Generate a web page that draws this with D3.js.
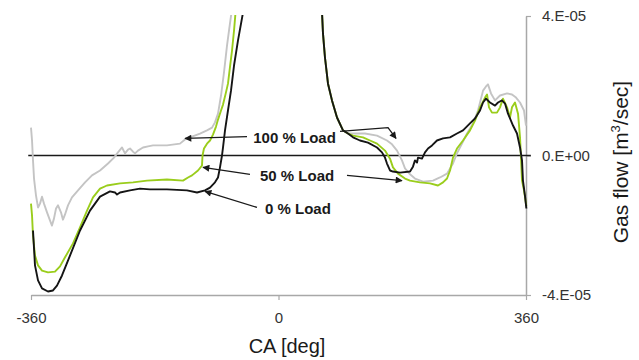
<!DOCTYPE html>
<html>
<head>
<meta charset="utf-8">
<script src="https://cdn.jsdelivr.net/npm/d3@7"></script>
<style>
  html, body { margin: 0; padding: 0; background: #fff; }
  svg { display: block; font-family: "Liberation Sans", Arial, sans-serif; }
</style>
</head>
<body>
<svg id="chart" width="639" height="360"></svg>
<script>
// Gas flow through the valve vs crank angle, three engine loads.
// Values are in 1e-6 m3/sec; x is crank angle in degrees.

const xTicks = [-360, 0, 360];
const xTickLabels = ["-360", "0", "360"];
const yTicks = [-40, 0, 40];
const yTickLabels = ["-4.E-05", "0.E+00", "4.E-05"];

// 0 % load (black): intake branch and exhaust branch
const load0Left = [[-357.1,-21.5],[-354.2,-31.5],[-349.8,-35.8],[-344.0,-38.1],[-335.3,-39.0],[-328.0,-38.7],[-322.2,-37.3],[-314.9,-34.4],[-303.3,-28.7],[-288.7,-21.5],[-274.2,-15.8],[-259.6,-11.8],[-245.1,-10.3],[-237.8,-10.6],[-234.9,-11.2],[-230.5,-10.6],[-216.0,-10.0],[-201.5,-9.5],[-186.9,-9.7],[-162.2,-9.7],[-133.1,-10.0],[-118.5,-10.6],[-106.9,-10.0],[-99.6,-9.2],[-92.4,-7.7],[-88.0,-6.3],[-85.1,-3.4],[-82.2,0],[-80.7,2.3],[-77.8,7.2],[-73.5,12.9],[-69.1,18.6],[-64.7,25.8],[-58.9,33.0],[-51.6,41.0]];
const load0Right = [[63.3,41.0],[64.7,35.0],[67.6,28.1],[72.0,20.6],[77.8,15.8],[85.1,10.9],[93.8,7.2],[101.1,6.3],[108.4,5.2],[118.5,4.3],[130.2,3.7],[143.3,2.3],[150.5,0.9],[154.9,-0.6],[157.8,-2.3],[162.2,-4.3],[166.5,-4.6],[176.7,-4.9],[191.3,-4.6],[195.6,-3.2],[198.5,-1.4],[201.5,-2.0],[202.9,-0.6],[208.7,-0.9],[213.1,0.9],[217.5,2.0],[223.3,2.9],[230.5,4.3],[239.3,4.9],[249.5,5.2],[259.6,6.3],[268.4,7.2],[278.5,9.2],[285.8,10.6],[293.1,12.9],[297.5,15.2],[301.8,16.3],[307.6,15.2],[314.9,14.3],[319.3,15.2],[325.1,15.8],[329.5,14.9],[333.8,12.0],[341.1,8.6],[346.9,6.3],[351.3,2.3],[354.2,-1.4],[355.6,-7.2],[358.5,-11.5],[360.5,-15.2]];

// 50 % load (green)
const load50Left = [[-360,-13.8],[-358.5,-17.2],[-357.1,-22.9],[-354.2,-28.7],[-349.8,-31.5],[-344.0,-33.0],[-335.3,-33.5],[-325.1,-33.3],[-317.8,-31.8],[-310.5,-29.2],[-298.9,-25.2],[-288.7,-20.6],[-278.5,-15.8],[-269.8,-12.0],[-259.6,-9.5],[-249.5,-8.6],[-230.5,-8.0],[-211.6,-7.7],[-191.3,-7.2],[-162.2,-6.9],[-138.9,-7.2],[-131.6,-6.3],[-125.8,-5.7],[-117.1,-4.3],[-111.3,-2.9],[-110.5,0],[-108.4,2.0],[-104.0,3.4],[-99.6,4.3],[-95.3,6.0],[-90.9,8.3],[-88.0,10.3],[-83.6,12.9],[-80.7,14.6],[-76.4,18.1],[-73.5,20.6],[-70.5,25.5],[-67.6,30.1],[-64.7,35.8],[-62.5,41.0]];
const load50Right = [[63.3,41.0],[64.7,35.0],[67.6,28.1],[72.0,20.6],[77.8,15.8],[85.1,10.9],[93.8,7.2],[101.1,6.3],[108.4,5.7],[122.9,5.2],[133.1,4.3],[143.3,3.4],[154.9,1.4],[162.2,-0.9],[166.5,-3.4],[173.8,-5.2],[184.0,-6.6],[191.3,-7.2],[205.8,-7.7],[220.4,-8.0],[232.0,-8.6],[239.3,-7.7],[245.1,-6.6],[249.5,-4.3],[253.8,-0.6],[259.6,2.0],[268.4,4.3],[278.5,7.2],[285.8,10.0],[293.1,13.8],[300.4,16.6],[303.3,17.5],[306.2,13.8],[310.5,12.3],[317.8,12.3],[322.2,13.8],[326.5,16.3],[332.4,13.8],[336.7,10.9],[339.6,13.8],[344.0,15.2],[348.4,12.0],[351.3,5.2],[352.7,-0.6],[354.2,-7.2],[357.1,-10.0],[360.5,-14.5]];

// 100 % load (grey)
const load100Left = [[-360,8.0],[-358.5,4.3],[-357.1,-1.4],[-355.6,-6.6],[-352.7,-11.5],[-349.8,-14.9],[-346.9,-13.8],[-344.0,-11.8],[-341.1,-13.8],[-336.7,-16.3],[-332.4,-18.6],[-329.5,-20.1],[-326.6,-18.1],[-323.6,-15.2],[-320.7,-14.3],[-316.4,-16.3],[-313.5,-18.4],[-310.5,-16.9],[-306.2,-14.3],[-300.4,-12.0],[-291.6,-10.0],[-281.4,-7.7],[-271.3,-5.7],[-259.6,-4.3],[-248.0,-2.3],[-239.3,-0.6],[-233.5,0.9],[-227.6,2.3],[-223.3,0.6],[-218.9,1.7],[-216.0,2.0],[-211.6,1.1],[-208.7,0.6],[-204.4,1.4],[-197.1,2.3],[-189.8,2.6],[-182.5,2.9],[-162.2,2.9],[-143.3,3.4],[-136.0,4.6],[-125.8,5.4],[-114.2,6.3],[-104.0,7.2],[-96.7,8.0],[-92.4,9.5],[-88.0,12.0],[-83.6,17.2],[-79.3,23.8],[-74.9,31.5],[-72.0,35.8],[-68.4,41.0]];
const load100Right = [[63.3,41.0],[64.7,35.0],[67.6,28.1],[72.0,20.6],[77.8,15.8],[85.1,10.9],[93.8,7.2],[101.1,6.3],[111.3,6.3],[125.8,6.3],[143.3,5.7],[157.8,4.3],[165.1,3.2],[172.4,1.4],[179.6,-1.4],[184.0,-3.7],[191.3,-5.4],[198.5,-6.6],[210.2,-7.5],[224.7,-7.2],[234.9,-6.3],[245.1,-5.2],[253.8,-2.3],[259.6,0.6],[266.9,3.4],[274.2,6.3],[282.9,9.2],[290.2,12.9],[294.5,16.3],[297.5,18.6],[301.8,19.8],[304.7,20.4],[309.1,17.8],[314.9,15.8],[322.2,17.2],[332.4,17.8],[339.6,17.5],[345.5,16.6],[351.3,15.2],[357.1,12.9],[360,8.6]];

// Load annotations: label anchor, label text, and arrow paths (last point = arrow tip)
const labelTexts = ["100 % Load", "50 % Load", "0 % Load"];
const labelAnchors = [[-36.7, 5.2], [-26.9, -5.7], [-19.6, -15.2]];
const arrowPaths = [
  [[-45.8, 5.4], [-136.0, 4.9]],
  [[89.5, 6.9], [159.3, 8.0], [170.9, 4.9]],
  [[-41.5, -5.4], [-109.8, -3.4]],
  [[99.6, -5.7], [179.6, -7.2]],
  [[-31.3, -14.9], [-106.9, -10.3]]
];
const zeroLine = [[-364, 0], [367, 0]];

const svg = d3.select("#chart");
const x = d3.scaleLinear().domain([-360, 360]).range([31, 526]);
const y = d3.scaleLinear().domain([-40, 40]).range([295, 16]);

const axisColor = "#a8a8a8";
const textColor = "#333";

// clip region for the curves (they run off the top of the plot)
svg.append("defs").append("clipPath").attr("id", "plotClip")
  .append("rect")
  .attr("x", x(-370)).attr("y", y(40.3))
  .attr("width", x(370) - x(-370)).attr("height", y(-41) - y(40.3));

// x axis
const xAxis = svg.append("g")
  .attr("transform", `translate(0,${y(-40)})`)
  .call(d3.axisBottom(x).tickValues(xTicks)
    .tickFormat((d, i) => xTickLabels[i]).tickSize(5).tickPadding(12).tickSizeOuter(0));
xAxis.select(".domain").attr("stroke", axisColor).attr("stroke-width", 1.5);
xAxis.selectAll(".tick line").attr("stroke", axisColor).attr("stroke-width", 1.2);
xAxis.selectAll("text").attr("fill", textColor).style("font-size", "15px");

// y axis on the right
const yAxis = svg.append("g")
  .attr("transform", `translate(${x(360)},0)`)
  .call(d3.axisRight(y).tickValues(yTicks)
    .tickFormat((d, i) => yTickLabels[i]).tickSize(5).tickPadding(11).tickSizeOuter(0));
yAxis.select(".domain").attr("stroke", axisColor).attr("stroke-width", 1.5);
yAxis.selectAll(".tick line").attr("stroke", axisColor).attr("stroke-width", 1.2);
yAxis.selectAll("text").attr("fill", textColor).style("font-size", "15px");

// zero reference line
const line = d3.line().x(d => x(d[0])).y(d => y(d[1]));
svg.append("path").datum(zeroLine).attr("d", line)
  .attr("fill", "none").attr("stroke", "#1a1a1a").attr("stroke-width", 1.3);

// curves
const curves = svg.append("g").attr("clip-path", "url(#plotClip)");
const series = [
  { data: [load100Left, load100Right], color: "#c4c4c4" },
  { data: [load50Left, load50Right], color: "#9acd1c" },
  { data: [load0Left, load0Right], color: "#151515" }
];
const smooth = d3.line().x(d => x(d[0])).y(d => y(d[1])).curve(d3.curveLinear);
series.forEach(s => {
  s.data.forEach(branch => {
    curves.append("path").datum(branch).attr("d", smooth)
      .attr("fill", "none").attr("stroke", s.color)
      .attr("stroke-width", 1.9).attr("stroke-linejoin", "round");
  });
});

// arrows
svg.append("defs").append("marker")
  .attr("id", "arrowHead").attr("viewBox", "0 0 10 10")
  .attr("refX", 9).attr("refY", 5)
  .attr("markerWidth", 9).attr("markerHeight", 7)
  .attr("markerUnits", "userSpaceOnUse")
  .attr("orient", "auto")
  .append("path").attr("d", "M0,0 L10,5 L0,10 z").attr("fill", "#1a1a1a");

arrowPaths.forEach(p => {
  svg.append("path").datum(p).attr("d", line)
    .attr("fill", "none").attr("stroke", "#1a1a1a").attr("stroke-width", 1.3)
    .attr("marker-end", "url(#arrowHead)");
});

// labels
labelTexts.forEach((t, i) => {
  svg.append("text")
    .attr("x", x(labelAnchors[i][0]))
    .attr("y", y(labelAnchors[i][1]))
    .attr("dy", "0.35em")
    .attr("fill", "#1a1a1a")
    .style("font-size", "15px").style("font-weight", "bold")
    .text(t);
});

// axis titles
svg.append("text")
  .attr("x", 287).attr("y", 353)
  .attr("text-anchor", "middle")
  .attr("fill", "#1a1a1a")
  .style("font-size", "20px")
  .text("CA [deg]");

const yTitle = svg.append("text")
  .attr("transform", "translate(628,162) rotate(-90)")
  .attr("text-anchor", "middle")
  .attr("fill", "#1a1a1a")
  .style("font-size", "21px");
yTitle.append("tspan").text("Gas flow [m");
yTitle.append("tspan").attr("dy", "-8").style("font-size", "13px").text("3");
yTitle.append("tspan").attr("dy", "8").text("/sec]");
</script>
</body>
</html>
